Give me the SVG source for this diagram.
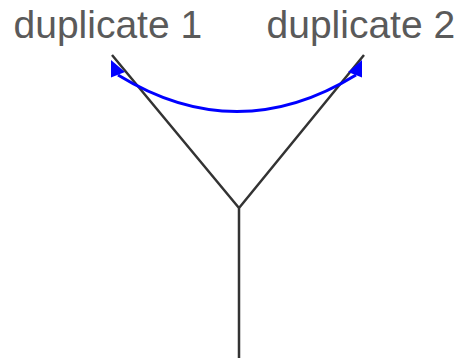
<svg xmlns="http://www.w3.org/2000/svg" width="463" height="362" viewBox="0 0 463 362">
<style>
.lbl{font-family:"Liberation Sans",Arial,sans-serif;font-size:39px;fill:#5a5a5a}
.edge{stroke:#333;stroke-width:2.5;fill:none;stroke-linecap:butt}
.arc{stroke:#0000ff;stroke-width:3;fill:none}
.head{fill:#0000ff}
</style>
<rect width="463" height="362" fill="#fff"/>
<g id="node-dup1"><text class="lbl" x="13.5" y="38">duplicate 1</text></g>
<g id="node-dup2"><text class="lbl" x="266.5" y="38">duplicate 2</text></g>
<g id="connectors">
<path class="edge" d="M112,55 L239,208 M364,55 L239,208 M239,208 L239,358"/>
<path class="arc" d="M118,75 Q237,148 356,75"/>
<polygon class="head" points="111,60 111,77.5 125,72"/>
<polygon class="head" points="362,60 362,77.5 348,72"/>
</g>
</svg>
